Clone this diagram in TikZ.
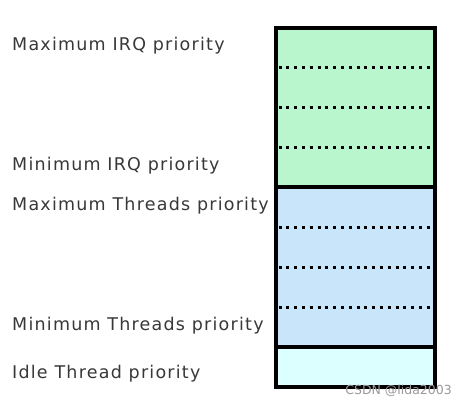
\documentclass[tikz,border=0pt]{standalone}
\usepackage{fontspec}
\setmainfont{DejaVu Sans}
\newfontfamily\lblfont[LetterSpace=7]{DejaVu Sans}
\begin{document}
\begin{tikzpicture}[x=1pt,y=-1pt,
  lbl/.style={anchor=west,inner sep=0pt,text=black!78,font=\lblfont\fontsize{17.5}{20}\selectfont},
  sect/.style={draw=black,line width=3.2pt},
  dots/.style={line width=3pt,dash pattern=on 3pt off 4.8pt,black}]
\useasboundingbox (0,0) rectangle (465,407);
\definecolor{gfill}{HTML}{BAF6CD}
\definecolor{bfill}{HTML}{C8E5F9}
\definecolor{cfill}{HTML}{DCFFFF}
% sections
\path[fill=gfill] (276,28) rectangle (435,187);
\path[fill=bfill] (276,187) rectangle (435,347);
\path[fill=cfill] (276,347) rectangle (435,387);
\foreach \y in {67,107,147,227,267,307}
  \draw[dots] (278.5,\y) -- (434,\y);
\draw[sect] (276,28) rectangle (435,387);
\draw[sect] (276,187) -- (435,187);
\draw[sect] (276,347) -- (435,347);
% labels
\node[lbl] (l1) at (12,46) {Maximum IRQ priority};
\node[lbl] (l2) at (12,166) {Minimum IRQ priority};
\node[lbl] (l3) at (12,206) {Maximum Threads priority};
\node[lbl] (l4) at (12,326) {Minimum Threads priority};
\node[lbl] (l5) at (12,374) {Idle Thread priority};
\node[anchor=east,inner sep=0pt,text=black!40,font=\fontsize{12.5}{14}\selectfont] (wm) at (452,391) {CSDN @lida2003};
\end{tikzpicture}
\end{document}
